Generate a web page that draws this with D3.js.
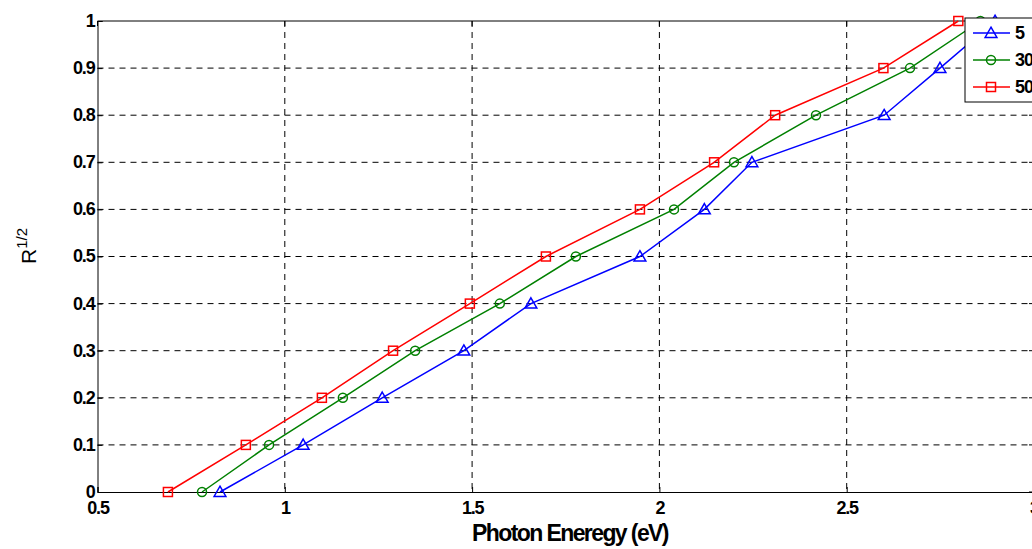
<!DOCTYPE html>
<html><head><meta charset="utf-8">
<script src="https://cdn.jsdelivr.net/npm/d3@7"></script>
<style>
body{margin:0;background:#fff;overflow:hidden}
text{font-family:"Liberation Sans",Arial,sans-serif}
</style></head>
<body><svg id="c" width="1032" height="549"></svg>
<script>
const yLevels=[0,0.1,0.2,0.3,0.4,0.5,0.6,0.7,0.8,0.9,1.0];
const x5 =[0.827,1.049,1.260,1.478,1.657,1.948,2.120,2.247,2.600,2.749,2.896];
const x30=[0.779,0.958,1.155,1.348,1.574,1.777,2.039,2.199,2.418,2.669,2.857];
const x50=[0.688,0.896,1.099,1.289,1.494,1.697,1.948,2.146,2.309,2.598,2.798];
const seriesNames=["5","30","50"];
const xTicks=[0.5,1,1.5,2,2.5,3];
const yTicks=[0,0.1,0.2,0.3,0.4,0.5,0.6,0.7,0.8,0.9,1];

const svg=d3.select("#c");
const L=97.5,R=1034,T=21,B=492;
const x=d3.scaleLinear().domain([0.5,3]).range([L,R]);
const y=d3.scaleLinear().domain([0,1]).range([B,T]);

// grid
svg.append("g").selectAll("line").data(xTicks.slice(1,-1)).join("line")
 .attr("x1",d=>x(d)).attr("x2",d=>x(d)).attr("y1",T).attr("y2",B)
 .attr("stroke","#000").attr("stroke-dasharray","6,5").attr("stroke-width",1);
svg.append("g").selectAll("line").data(yTicks.slice(1,-1)).join("line")
 .attr("y1",d=>y(d)).attr("y2",d=>y(d)).attr("x1",L).attr("x2",R)
 .attr("stroke","#000").attr("stroke-dasharray","6,5").attr("stroke-width",1);

// axes
const xa=svg.append("g").attr("transform",`translate(0,${B})`)
 .call(d3.axisBottom(x).tickValues(xTicks).tickSize(-5).tickPadding(9).tickFormat(d3.format("~g")));
const ya=svg.append("g").attr("transform",`translate(${L},0)`)
 .call(d3.axisLeft(y).tickValues(yTicks).tickSize(-5).tickPadding(3).tickFormat(d3.format("~g")));
[xa,ya].forEach(a=>{a.select(".domain").attr("stroke","#000");
 a.selectAll("text").attr("font-size",18).attr("font-weight","bold").attr("fill","#000").attr("letter-spacing","-1.2px");});
xa.selectAll("text").attr("dy","0.71em");
ya.selectAll("text").attr("dy","0.3em");
// top & right frame
svg.append("line").attr("x1",L).attr("x2",R).attr("y1",T).attr("y2",T).attr("stroke","#000");
svg.append("line").attr("x1",R).attr("x2",R).attr("y1",T).attr("y2",B).attr("stroke","#000");
svg.append("g").selectAll("line").data(xTicks).join("line")
 .attr("x1",d=>x(d)).attr("x2",d=>x(d)).attr("y1",T).attr("y2",T+5).attr("stroke","#000");
svg.append("g").selectAll("line").data(yTicks).join("line")
 .attr("x1",R-5).attr("x2",R).attr("y1",d=>y(d)).attr("y2",d=>y(d)).attr("stroke","#000");

// labels
svg.append("text").attr("x",570).attr("y",541).attr("text-anchor","middle")
 .attr("font-size",23).attr("font-weight","bold").attr("letter-spacing","-1.6px").text("Photon Eneregy (eV)");
const yl=svg.append("text").attr("transform","translate(36,246) rotate(-90)").attr("text-anchor","middle").attr("font-size",21);
yl.append("tspan").text("R");
yl.append("tspan").attr("dy",-9).attr("font-size",15).text("1/2");

const colors=["#0000ff","#008000","#ff0000"];
const data=[x5,x30,x50].map((xs,i)=>({name:seriesNames[i],color:colors[i],pts:xs.map((v,j)=>[v,yLevels[j]])}));
const line=d3.line().x(d=>x(d[0])).y(d=>y(d[1]));
const tri=d3.symbol().type(d3.symbolTriangle).size(60);
function marker(g,i,cx,cy,col){
 if(i===0) g.append("path").attr("d",tri()).attr("transform",`translate(${cx},${cy+1})`).attr("fill","none").attr("stroke",col).attr("stroke-width",1.5);
 else if(i===1) g.append("circle").attr("cx",cx).attr("cy",cy).attr("r",4.5).attr("fill","none").attr("stroke",col).attr("stroke-width",1.5);
 else g.append("rect").attr("x",cx-4.5).attr("y",cy-4.5).attr("width",9).attr("height",9).attr("fill","none").attr("stroke",col).attr("stroke-width",1.5);
}
data.forEach((s,i)=>{
 const g=svg.append("g");
 g.append("path").attr("d",line(s.pts)).attr("fill","none").attr("stroke",s.color).attr("stroke-width",1.5);
 s.pts.forEach(p=>marker(g,i,x(p[0]),y(p[1]),s.color));
});

// legend
const lg=svg.append("g");
lg.append("rect").attr("x",965).attr("y",18).attr("width",100).attr("height",84).attr("fill","#fff").attr("stroke","#000");
data.forEach((s,i)=>{
 const ly=[33,60,87][i];
 lg.append("line").attr("x1",973).attr("x2",1010).attr("y1",ly).attr("y2",ly).attr("stroke",s.color).attr("stroke-width",1.5);
 marker(lg,i,991,ly,s.color);
 lg.append("text").attr("x",1015).attr("y",ly).attr("dy","0.35em").attr("font-size",18).attr("font-weight","bold").attr("letter-spacing","-1px").text(s.name);
});
</script></body></html>
